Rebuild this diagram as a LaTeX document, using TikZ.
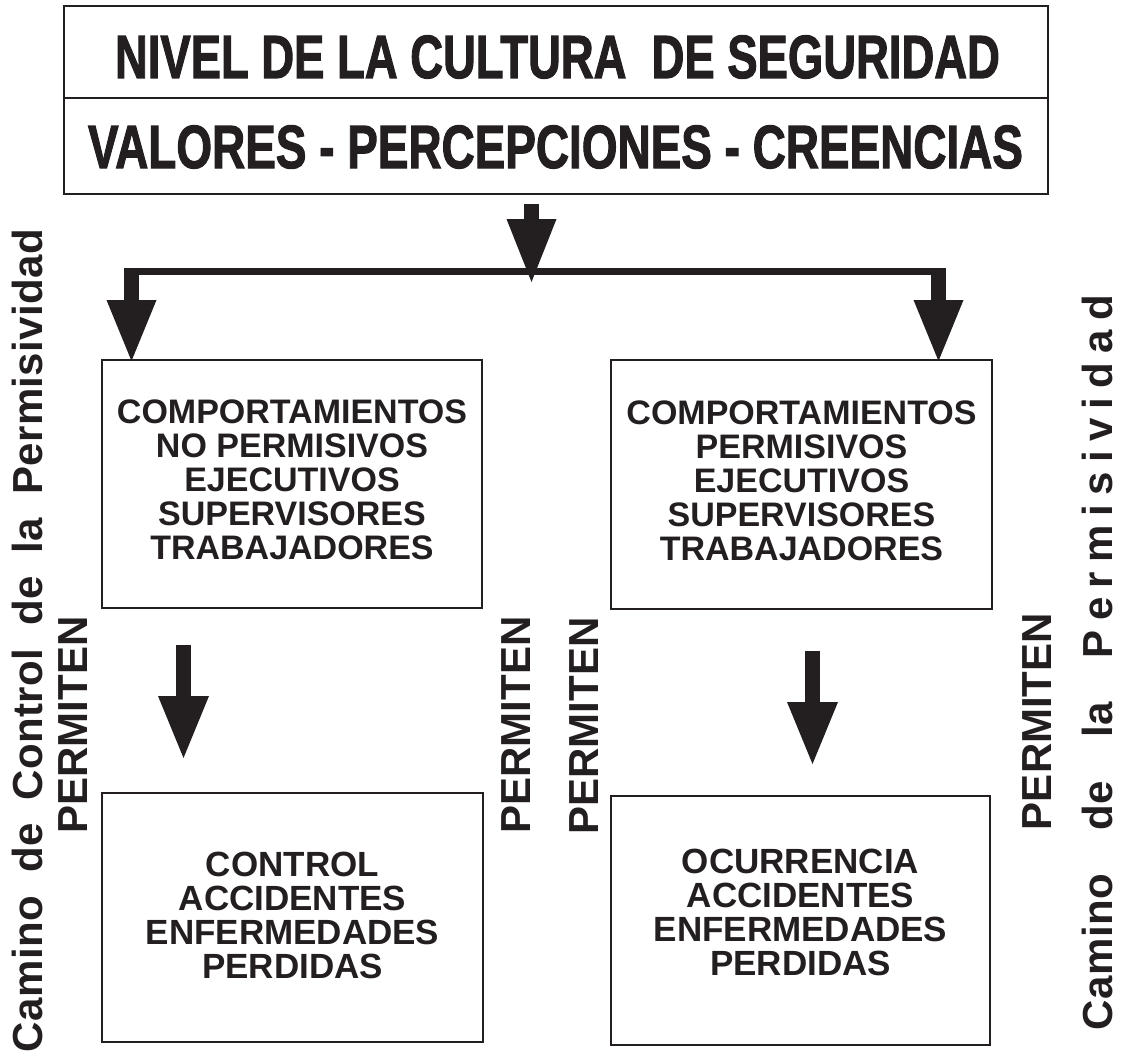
\documentclass[tikz,border=0pt]{standalone}
\usepackage{fontspec}
\usepackage{graphicx}
\setmainfont{Liberation Sans}
\newfontfamily\heavyfont[FakeBold=2]{Liberation Sans Bold}
\newfontfamily\spacedL[LetterSpace=1,WordSpace=1.7]{Liberation Sans}
\newfontfamily\spacedR[LetterSpace=1,WordSpace=1.9]{Liberation Sans}
\usetikzlibrary{calc}
\definecolor{ink}{RGB}{35,31,32}
\tikzset{
  box/.style={draw=ink, line width=2.5pt, inner sep=0pt, outer sep=0pt, align=center, text=ink},
  midtext/.style={font=\bfseries\fontsize{34}{34}\selectfont, text depth=8pt},
  lowtext/.style={font=\bfseries\fontsize{35}{34}\selectfont},
  vtext/.style={rotate=90, anchor=base west, inner sep=0pt, outer sep=0pt, text=ink},
  permit/.style={rotate=90, anchor=base, inner sep=0pt, outer sep=0pt, text=ink, font=\bfseries\fontsize{42}{42}\selectfont},
  toptext/.style={anchor=base, inner sep=0pt, text=ink},
  stemline/.style={draw=ink, line width=15pt},
  barline/.style={draw=ink, line width=7pt},
  headfill/.style={fill=ink},
}
\begin{document}
\begin{tikzpicture}[x=1pt,y=-1pt]
\useasboundingbox (0,0) rectangle (1121,1062);
% top boxes
\node[box, minimum width=984, minimum height=92] (top1) at (556,52) {};
\node[box, minimum width=984, minimum height=96] (top2) at (556,146) {};
\node[toptext] (t1) at (557.5,78)
  {\resizebox{885pt}{\height}{\heavyfont\fontsize{61}{61}\selectfont NIVEL DE LA CULTURA\ \ DE SEGURIDAD}};
\node[toptext] (t2) at (555.5,168)
  {\resizebox{935pt}{\height}{\heavyfont\fontsize{61}{61}\selectfont VALORES - PERCEPCIONES - CREENCIAS}};
% middle boxes
\node[box, midtext, minimum width=380, minimum height=248] (m1) at (292,484)
  {COMPORTAMIENTOS\\NO PERMISIVOS\\EJECUTIVOS\\SUPERVISORES\\TRABAJADORES};
\node[box, midtext, minimum width=381, minimum height=249] (m2) at (801.5,484.5)
  {COMPORTAMIENTOS\\PERMISIVOS\\EJECUTIVOS\\SUPERVISORES\\TRABAJADORES};
% bottom boxes
\node[box, lowtext, text depth=4pt, minimum width=381, minimum height=249] (b1) at (292.5,917.5)
  {CONTROL\\ACCIDENTES\\ENFERMEDADES\\PERDIDAS};
\node[box, lowtext, text depth=16pt, minimum width=379, minimum height=249] (b2) at (800.5,920.5)
  {OCURRENCIA\\ACCIDENTES\\ENFERMEDADES\\PERDIDAS};
% arrow from top box to bar
\coordinate (c0) at (531.5,204);
\coordinate (c1) at (531.5,282);
\draw[stemline] (c0) -- ($(c1)+(0,-60)$);
\fill[headfill] (c1) -- ++(-25,-63) -- ++(50,0) -- cycle;
% bar
\coordinate (bl) at (131.5,271);
\coordinate (br) at (938.5,271);
\draw[barline] ($(bl)+(-7.5,0)$) -- ($(br)+(7.5,0)$);
% side arrows
\coordinate (l1) at (131.5,361);
\coordinate (r1) at (938.5,361);
\draw[stemline] ($(bl)+(0,-3.5)$) -- ($(l1)+(0,-58)$);
\fill[headfill] (l1) -- ++(-25,-61) -- ++(50,0) -- cycle;
\draw[stemline] ($(br)+(0,-3.5)$) -- ($(r1)+(0,-58)$);
\fill[headfill] (r1) -- ++(-25,-61) -- ++(50,0) -- cycle;
% lower arrows
\coordinate (ls) at (183.5,645);
\coordinate (le) at (183.5,758);
\draw[stemline] (ls) -- ($(le)+(0,-59)$);
\fill[headfill] (le) -- ++(-25.5,-62) -- ++(51,0) -- cycle;
\coordinate (rs) at (812.5,651);
\coordinate (re) at (812.5,764);
\draw[stemline] (rs) -- ($(re)+(0,-59)$);
\fill[headfill] (re) -- ++(-25.5,-62) -- ++(51,0) -- cycle;
% vertical labels
\node[vtext, font=\spacedL\bfseries\fontsize{42}{42}\selectfont] (lc) at (42,1052) {Camino de Control de la Permisividad};
\node[permit] (p1) at (87,725) {PERMITEN};
\node[permit] (p2) at (530,725) {PERMITEN};
\node[permit] (p3) at (598,726) {PERMITEN};
\node[permit] (p4) at (1051,721.5) {PERMITEN};
\node[vtext, font=\spacedR\bfseries\fontsize{42}{42}\selectfont] (rc) at (1112,1030) {Camino de la {\addfontfeature{LetterSpace=22}Permisividad}};
\end{tikzpicture}
\end{document}
